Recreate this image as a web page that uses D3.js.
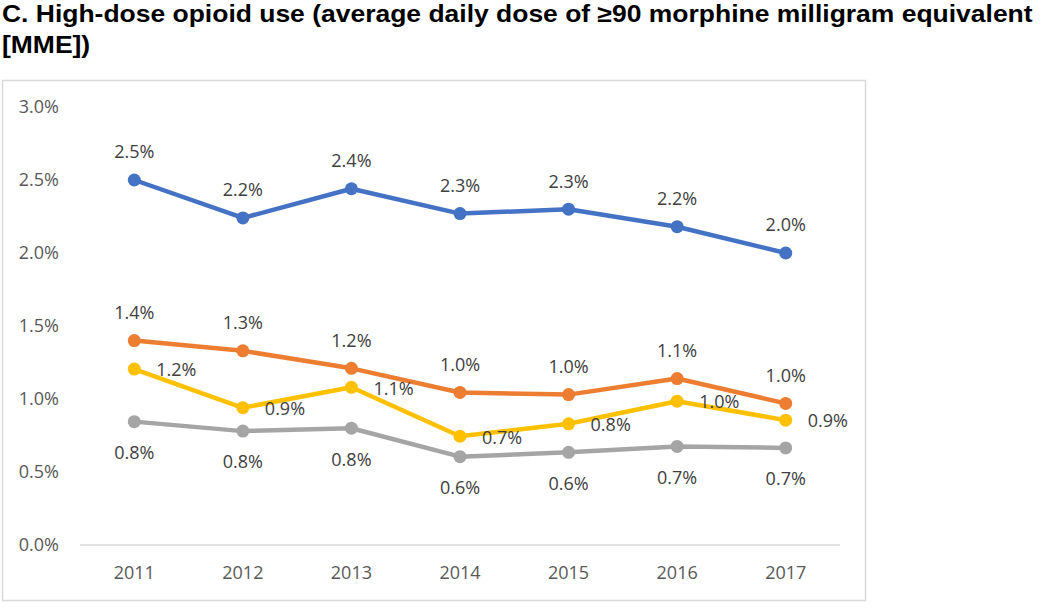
<!DOCTYPE html>
<html>
<head>
<meta charset="utf-8">
<script src="https://cdn.jsdelivr.net/npm/d3@7"></script>
<style>
  html, body { margin: 0; padding: 0; background: #fff; }
  svg { display: block; }
</style>
</head>
<body>
<svg id="chart" width="1050" height="608"></svg>
<script>
const titleLines = ["C. High-dose opioid use (average daily dose of \u226590 morphine milligram equivalent", "[MME])"];
const years = ["2011", "2012", "2013", "2014", "2015", "2016", "2017"];
const yTicks = [0, 0.5, 1.0, 1.5, 2.0, 2.5, 3.0];
const blueValues   = [2.50, 2.24, 2.44, 2.27, 2.30, 2.18, 2.00];
const orangeValues = [1.40, 1.33, 1.21, 1.045, 1.03, 1.14, 0.97];
const yellowValues = [1.205, 0.94, 1.08, 0.745, 0.83, 0.985, 0.855];
const grayValues   = [0.845, 0.78, 0.80, 0.605, 0.635, 0.675, 0.665];

const series = [
  { name: "blue",   values: blueValues,   color: "#4472C4", label: "above" },
  { name: "orange", values: orangeValues, color: "#ED7D31", label: "above" },
  { name: "yellow", values: yellowValues, color: "#FFC000", label: "right" },
  { name: "gray",   values: grayValues,   color: "#A5A5A5", label: "below" }
];

const svg = d3.select("#chart");
const font = "'Open Sans', 'Noto Sans', sans-serif";
const textColor = "#595959";

// Title (horizontally widened to match the reference proportions)
const titleG = svg.append("g").attr("transform", "translate(2,0) scale(1.127,1)");
titleG.selectAll("text").data(titleLines).join("text")
  .attr("x", 0)
  .attr("y", (d, i) => 22 + i * 31.5)
  .attr("font-family", "'Liberation Sans', Arial, sans-serif")
  .attr("font-weight", "bold")
  .attr("font-size", 23.5)
  .attr("fill", "#000")
  .text(d => d);

// Chart frame
svg.append("rect")
  .attr("x", 2.5).attr("y", 80.5)
  .attr("width", 863).attr("height", 520)
  .attr("fill", "#fff")
  .attr("stroke", "#D9D9D9")
  .attr("stroke-width", 1.5);

const x = d3.scaleBand().domain(years).range([80, 840]);
const y = d3.scaleLinear().domain([0, 3]).range([545, 107]);
const fmt = d3.format(".1f");

// Y axis labels
svg.append("g").selectAll("text").data(yTicks).join("text")
  .attr("x", 59)
  .attr("y", d => y(d))
  .attr("dy", "0.35em")
  .attr("text-anchor", "end")
  .attr("font-family", font)
  .attr("font-size", 18)
  .attr("fill", textColor)
  .text(d => fmt(d) + "%");

// Baseline
svg.append("line")
  .attr("x1", x.range()[0]).attr("x2", x.range()[1])
  .attr("y1", y(0)).attr("y2", y(0))
  .attr("stroke", "#D9D9D9").attr("stroke-width", 1.5);

// X axis labels
svg.append("g").selectAll("text").data(years).join("text")
  .attr("x", d => x(d) + x.bandwidth() / 2)
  .attr("y", 573)
  .attr("dy", "0.35em")
  .attr("text-anchor", "middle")
  .attr("font-family", font)
  .attr("font-size", 18)
  .attr("fill", textColor)
  .text(d => d);

const cx = (i) => x(years[i]) + x.bandwidth() / 2;
const line = d3.line().x((d, i) => cx(i)).y(d => y(d));

series.forEach(s => {
  const g = svg.append("g");
  g.append("path")
    .attr("d", line(s.values))
    .attr("fill", "none")
    .attr("stroke", s.color)
    .attr("stroke-width", 4.5)
    .attr("stroke-linejoin", "round")
    .attr("stroke-linecap", "round");
  g.selectAll("circle").data(s.values).join("circle")
    .attr("cx", (d, i) => cx(i))
    .attr("cy", d => y(d))
    .attr("r", 6.5)
    .attr("fill", s.color);
});

series.forEach(s => {
  svg.append("g").selectAll("text").data(s.values).join("text")
    .attr("x", (d, i) => s.label === "right" ? cx(i) + 22 : cx(i))
    .attr("y", d => s.label === "above" ? y(d) - 28 : s.label === "below" ? y(d) + 31 : y(d) + 1)
    .attr("dy", "0.35em")
    .attr("text-anchor", s.label === "right" ? "start" : "middle")
    .attr("font-family", font)
    .attr("font-size", 18)
    .attr("fill", "#404040")
    .text(d => fmt(d) + "%");
});
</script>
</body>
</html>
